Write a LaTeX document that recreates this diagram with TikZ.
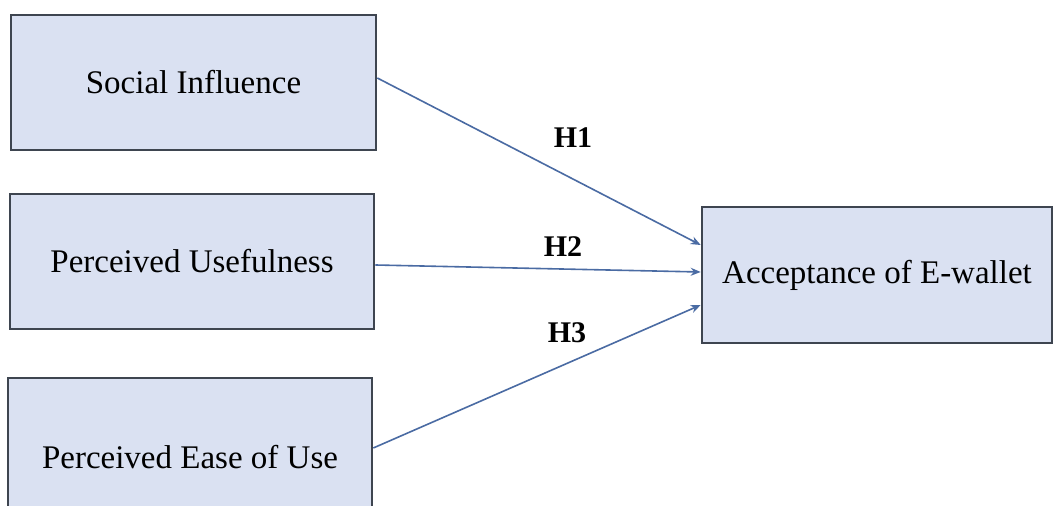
\documentclass[tikz,border=0pt]{standalone}
\usepackage{fontspec}
\setmainfont{Liberation Serif}
\usetikzlibrary{arrows.meta}
\definecolor{boxfill}{HTML}{DAE1F2}
\definecolor{boxline}{HTML}{3E4550}
\definecolor{arrowc}{HTML}{4A6BA3}
\begin{document}
\begin{tikzpicture}[x=0.5pt,y=-0.5pt,
  box/.style={draw=boxline,fill=boxfill,line width=1.3pt,inner sep=0pt,
    font=\fontsize{16.5}{20}\selectfont},
  link/.style={draw=arrowc,line width=0.8pt,-{Stealth[length=5pt,width=4pt]}},
  hlabel/.style={font=\fontsize{15}{18}\selectfont\bfseries,inner sep=0pt}]
\fill[white] (0,0) rectangle (1053,506);
\clip (0,0) rectangle (1053,506);
\node[box,minimum width=182.5pt,minimum height=67.5pt] (si) at (193.5,82.5) {Social Influence};
\node[box,minimum width=182pt,minimum height=67.5pt] (pu) at (192,261.5) {Perceived Usefulness};
\node[box,minimum width=182pt,minimum height=79pt] (pe) at (190,457) {Perceived Ease of Use};
\node[box,minimum width=175pt,minimum height=68pt] (ae) at (877,275) {Acceptance of E-wallet};
\draw[link] ([yshift=2.25pt]si.east) -- ([yshift=15pt]ae.west);
\draw[link] ([yshift=-1.75pt]pu.east) -- ([yshift=1.5pt]ae.west);
\draw[link] ([yshift=4.5pt]pe.east) -- ([yshift=-15pt]ae.west);
\node[hlabel] (h1) at (573,138) {H1};
\node[hlabel] (h2) at (563,247) {H2};
\node[hlabel] (h3) at (567,333) {H3};
\end{tikzpicture}
\end{document}
